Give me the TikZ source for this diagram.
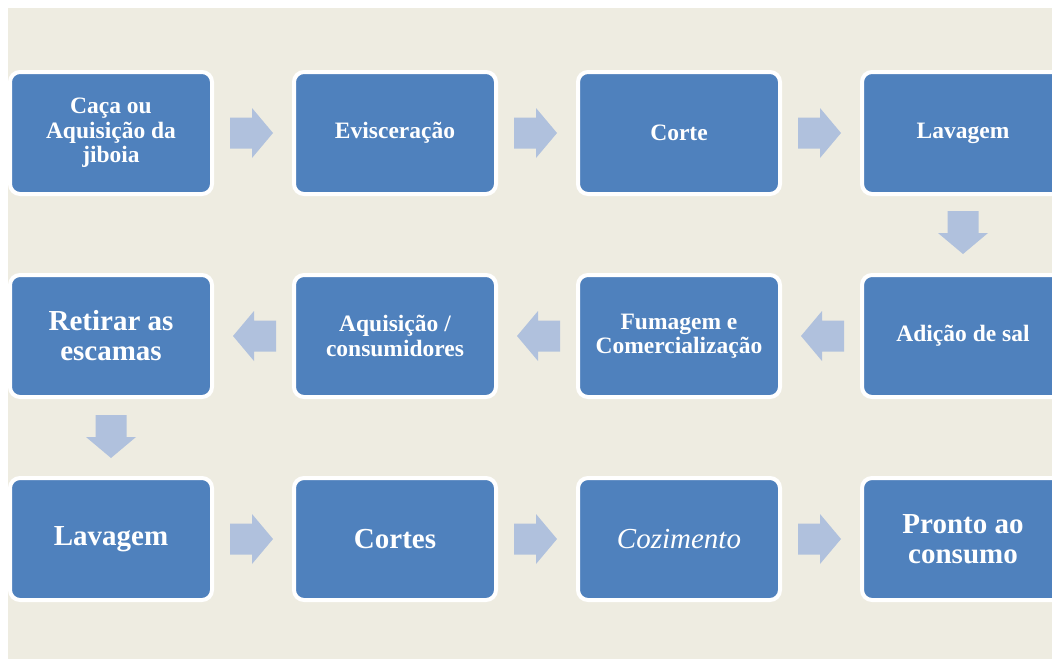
\documentclass[tikz,border=0pt]{standalone}
\usepackage{fontspec}
\setmainfont{Liberation Serif}
\usetikzlibrary{calc}
\definecolor{bgtan}{HTML}{EEECE1}
\definecolor{boxblue}{HTML}{4F81BD}
\definecolor{arrowc}{HTML}{B0C1DD}
\tikzset{
  box/.style={draw=white, line width=4pt, fill=boxblue, rounded corners=10pt,
    minimum width=202pt, minimum height=122pt, inner sep=0pt, text=white,
    align=center, font=\bfseries\fontsize{23.5}{24.5}\selectfont},
  bigtext/.style={font=\bfseries\fontsize{29}{30}\selectfont},
  arr/.pic={\fill[arrowc] (-21.5,-15.5) -- (0.5,-15.5) -- (0.5,-25) -- (21.5,0) -- (0.5,25) -- (0.5,15.5) -- (-21.5,15.5) -- cycle;}
}
\begin{document}
\begin{tikzpicture}[x=1pt,y=-1pt]
\useasboundingbox (0,0) rectangle (1052,659);
\clip (0,0) rectangle (1052,659);
\fill[white] (0,0) rectangle (1052,659);
\fill[bgtan] (8,8) rectangle (1052,659);
% row 1
\node[box] (b1) at (111,133) {Caça ou\\Aquisição da\\jiboia};
\node[box] (b2) at (395,133) {Evisceração};
\node[box] (b3) at (679,133) {Corte};
\node[box] (b4) at (963,133) {Lavagem};
% row 2
\node[box] (b5) at (963,336) {Adição de sal};
\node[box] (b6) at (679,336) {Fumagem e\\Comercialização};
\node[box] (b7) at (395,336) {Aquisição /\\consumidores};
\node[box,bigtext] (b8) at (111,336) {Retirar as\\escamas};
% row 3
\node[box,bigtext] (b9) at (111,539) {Lavagem};
\node[box,bigtext] (b10) at (395,539) {Cortes};
\node[box,font=\itshape\fontsize{29}{30}\selectfont] (b11) at (679,539) {Cozimento};
\node[box,bigtext] (b12) at (963,539) {Pronto ao\\consumo};
% arrows
\coordinate (a1) at ($(b1.east)!0.5!(b2.west)+(-1.5,0)$);
\coordinate (a2) at ($(b2.east)!0.5!(b3.west)+(-1.5,0)$);
\coordinate (a3) at ($(b3.east)!0.5!(b4.west)+(-1.5,0)$);
\coordinate (a4) at ($(b4.south)!0.5!(b5.north)+(0,-2)$);
\coordinate (a5) at ($(b5.west)!0.5!(b6.east)+(1.5,0)$);
\coordinate (a6) at ($(b6.west)!0.5!(b7.east)+(1.5,0)$);
\coordinate (a7) at ($(b7.west)!0.5!(b8.east)+(1.5,0)$);
\coordinate (a8) at ($(b8.south)!0.5!(b9.north)+(0,-1)$);
\coordinate (a9) at ($(b9.east)!0.5!(b10.west)+(-1.5,0)$);
\coordinate (a10) at ($(b10.east)!0.5!(b11.west)+(-1.5,0)$);
\coordinate (a11) at ($(b11.east)!0.5!(b12.west)+(-1.5,0)$);
\foreach \a in {a1,a2,a3,a9,a10,a11} \pic at (\a) {arr};
\foreach \a in {a5,a6,a7} \pic[rotate=180] at (\a) {arr};
\foreach \a in {a4,a8} \pic[rotate=-90] at (\a) {arr};
\end{tikzpicture}
\end{document}
